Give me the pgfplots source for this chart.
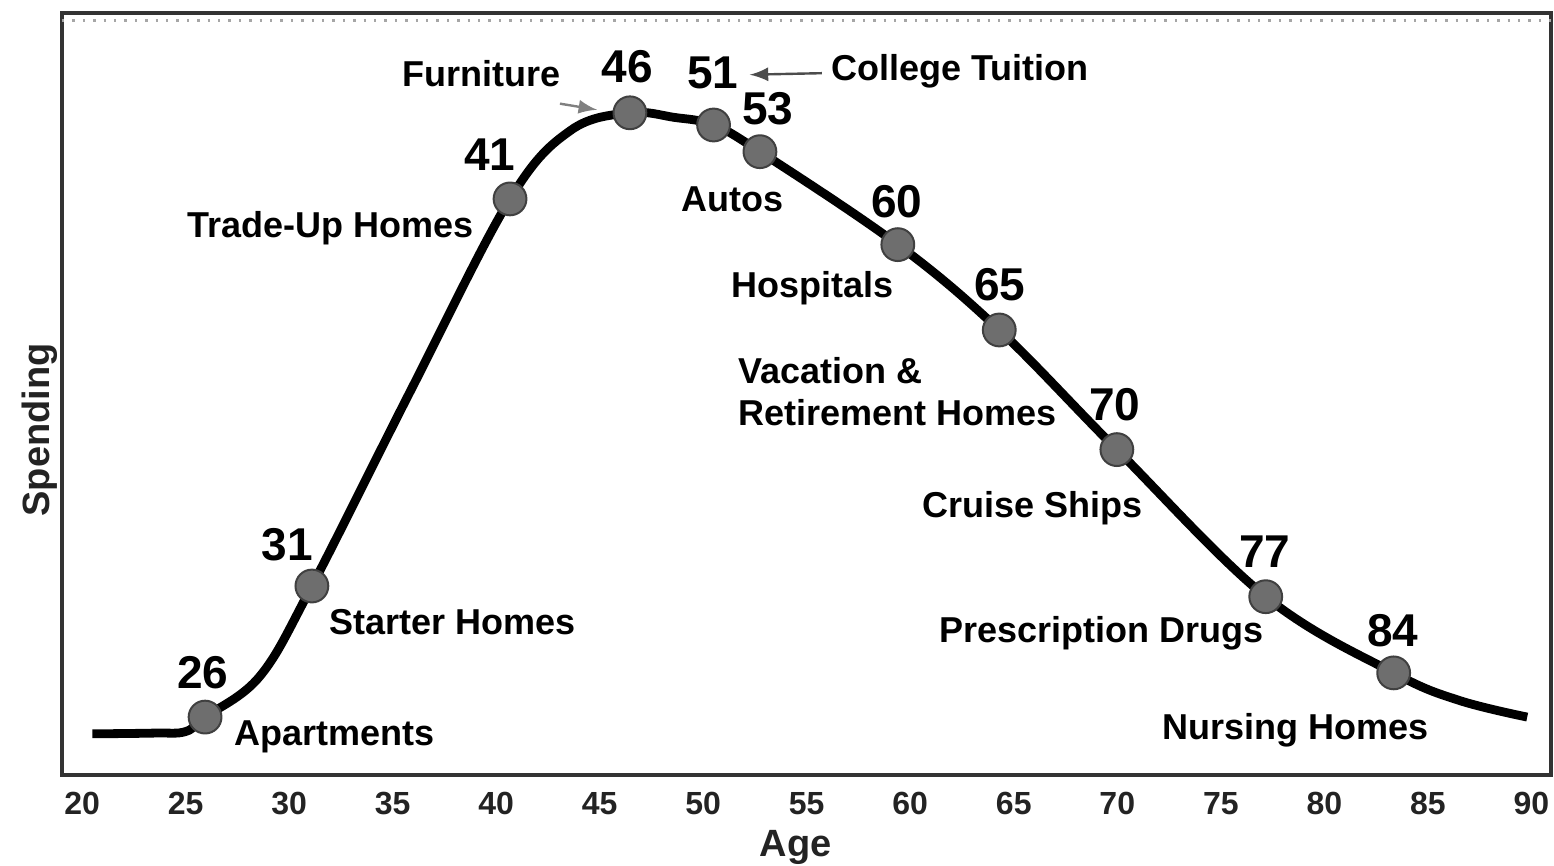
\documentclass[border=0pt]{standalone}
\usepackage{fontspec}
\setmainfont{Liberation Sans}
\usepackage{pgfplots}
\pgfplotsset{compat=1.18}
\definecolor{dotgray}{RGB}{110,110,110}
\definecolor{txt}{RGB}{35,35,35}
\begin{document}
\begin{tikzpicture}[x=1pt,y=1pt]
\path[use as bounding box] (0,0) rectangle (388.5,216.5);
\begin{axis}[
  at={(15.5pt,22.75pt)}, anchor=south west,
  scale only axis, width=372.25pt, height=190.5pt,
  xmin=19.03, xmax=90.95, ymin=0, ymax=100,
  xtick={20,25,...,90}, ytick=\empty,
  major tick length=0pt,
  axis line style={line width=0.9pt, black!80},
  /pgf/number format/assume math mode=true,
  xticklabel style={font=\fontsize{8}{9}\selectfont\bfseries, text=txt, yshift=-0.8pt},
  xlabel={Age}, ylabel={Spending},
  xlabel style={font=\fontsize{9.5}{11}\selectfont\bfseries, text=txt, yshift=3pt, xshift=-2.75pt},
  ylabel style={font=\fontsize{9.5}{11}\selectfont\bfseries, text=txt, yshift=-2.3pt, xshift=-9pt},
  clip=false,
  every node/.style={text=txt},
]
\draw[gray!70, dotted, line width=0.6pt] (rel axis cs:0,0.99) -- (rel axis cs:1,0.99);
% curve
\addplot[black, line width=2.2pt, smooth, tension=0.6] coordinates {
(20.5,5.4) (23.5,5.5) (25.0,5.7) (25.94,7.6) (28.6,13.0) (31.1,24.8)
(35.9,50.6) (40.67,75.6) (43.6,84.6) (46.46,86.9)
(48.6,86.3) (50.5,85.3) (52.74,81.8) (59.4,69.6) (64.3,58.4) (69.98,42.7)
(77.17,23.4) (83.35,13.4) (86.5,9.8) (89.8,7.6)
};
% dots
\addplot[only marks, mark=*, mark size=4.1pt, mark options={fill=dotgray, draw=black!75, line width=0.5pt}] coordinates {
(25.94,7.6) (31.1,24.8) (40.67,75.6) (46.46,86.9) (50.5,85.3) (52.74,81.8) (59.4,69.6)
(64.3,58.4) (69.98,42.7) (77.17,23.4) (83.35,13.4)
};
% labels
\tikzset{num/.style={font=\fontsize{11.5}{12}\selectfont\bfseries}, lab/.style={font=\fontsize{9}{10}\selectfont\bfseries}}
\node[num] at (axis cs:46.32,92.9) {46};
\node[num] at (axis cs:50.47,92.1) {51};
\node[num] at (axis cs:53.12,87.5) {53};
\node[num] at (axis cs:39.70,81.4) {41};
\node[num] at (axis cs:59.35,75.2) {60};
\node[num] at (axis cs:64.33,64.3) {65};
\node[num] at (axis cs:69.88,48.6) {70};
\node[num] at (axis cs:77.12,29.3) {77};
\node[num] at (axis cs:83.30,19.0) {84};
\node[num] at (axis cs:29.90,30.2) {31};
\node[num] at (axis cs:25.84,13.4) {26};
\node[lab] at (axis cs:39.27,92.1) {Furniture};
\node[lab] at (axis cs:62.39,92.3) {College Tuition};
\node[lab] at (axis cs:32.02,71.8) {Trade-Up Homes};
\node[lab] at (axis cs:51.43,75.5) {Autos};
\node[lab] at (axis cs:55.30,63.9) {Hospitals};
\node[lab, anchor=west, inner sep=0pt] at (axis cs:51.68,53.1) {Vacation \&};
\node[lab, anchor=west, inner sep=0pt] at (axis cs:51.68,47.6) {Retirement Homes};
\node[lab] at (axis cs:65.92,35.0) {Cruise Ships};
\node[lab] at (axis cs:69.25,18.6) {Prescription Drugs};
\node[lab] at (axis cs:78.62,5.9) {Nursing Homes};
\node[lab] at (axis cs:37.91,20.1) {Starter Homes};
\node[lab] at (axis cs:32.17,5.0) {Apartments};
% arrows
\draw[gray, line width=0.6pt, -latex] (axis cs:43.08,88.1) -- (axis cs:44.87,87.3);
\draw[black!70, line width=0.6pt, -latex] (axis cs:55.73,92.1) -- (axis cs:52.25,91.9);
\end{axis}
\end{tikzpicture}
\end{document}
